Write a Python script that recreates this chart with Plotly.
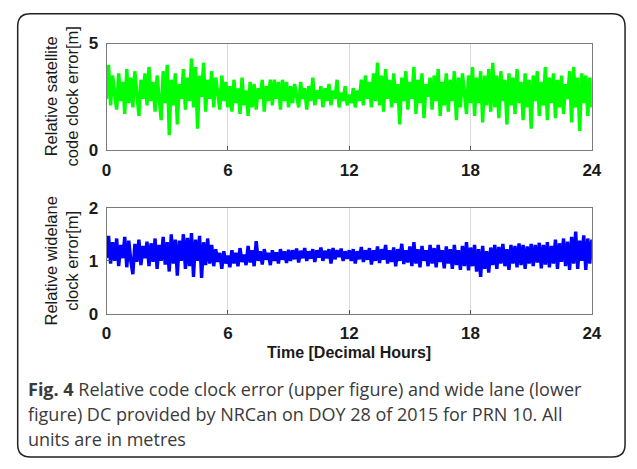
import plotly.graph_objects as go

# time axis (decimal hours), one sample every 0.1 h
hours = [round(i * 0.1, 1) for i in range(241)]

# upper series: relative satellite code clock error [m]
code_clock = [
    2.4, 4.0, 2.1, 3.5, 2.6, 1.9, 3.6, 2.3, 3.2, 1.7, 3.8,
    2.2, 3.4, 2.0, 3.7, 2.5, 1.6, 3.3, 2.4, 3.6, 2.1,
    3.9, 2.3, 3.2, 1.8, 3.5, 2.6, 1.4, 3.7, 2.2, 4.0,
    0.7, 3.3, 2.1, 3.6, 1.2, 3.1, 2.4, 3.8, 1.9, 3.4,
    2.3, 4.3, 2.0, 3.9, 1.0, 3.5, 2.5, 4.1, 1.8, 3.3,
    2.4, 3.7, 2.0, 3.4, 2.6, 1.9, 3.5, 2.3, 3.2, 2.0,
    3.0, 1.8, 3.3, 2.2, 2.9, 1.7, 3.4, 2.1, 2.8, 1.6,
    3.2, 2.0, 3.1, 1.9, 2.9, 2.4, 3.3, 1.8, 3.0, 2.3,
    3.3, 2.1, 3.3, 2.4, 3.2, 1.9, 3.3, 2.3, 3.2, 2.0,
    3.0, 2.2, 3.1, 2.5, 2.0, 3.2, 2.4, 2.9, 1.9, 3.0,
    2.3, 3.4, 2.1, 2.8, 2.4, 3.0, 2.0, 2.9, 2.3, 3.1,
    2.1, 2.8, 2.4, 3.3, 2.0, 2.7, 2.3, 3.0, 2.1, 2.6,
    2.2, 2.9, 2.0, 2.8, 2.3, 3.3, 2.1, 3.5, 2.4, 3.2,
    2.0, 3.6, 2.3, 4.1, 2.1, 3.5, 1.8, 3.8, 2.4, 3.3,
    2.0, 3.6, 2.2, 3.1, 1.2, 3.4, 2.3, 3.7, 1.9, 3.2,
    2.4, 3.9, 1.7, 3.3, 2.2, 3.6, 1.5, 3.1, 2.5, 3.4,
    1.9, 3.5, 2.3, 3.8, 1.6, 3.2, 2.1, 3.6, 1.8, 3.3,
    2.3, 3.7, 1.4, 3.4, 2.0, 3.6, 2.4, 1.7, 3.5, 2.2,
    3.9, 1.6, 3.4, 2.2, 3.7, 1.3, 3.5, 2.1, 3.8, 1.8,
    4.1, 2.0, 3.5, 1.5, 3.7, 2.3, 3.3, 1.2, 3.6, 2.1,
    3.4, 1.7, 3.8, 2.2, 3.2, 1.4, 3.6, 2.0, 3.3, 1.0,
    3.5, 2.3, 3.7, 1.6, 3.2, 2.1, 3.9, 1.4, 3.4, 2.2,
    3.6, 1.5, 3.3, 2.0, 3.5, 1.7, 3.1, 2.4, 3.7, 1.3,
    3.9, 2.0, 3.4, 0.9, 3.6, 2.2, 3.5, 1.6, 3.4, 2.0,
]

# lower series: relative widelane clock error [m]
widelane = [
    1.05, 1.47, 0.95, 1.35, 1.00, 1.42, 0.90, 1.30, 1.05, 1.45, 0.88,
    1.38, 1.00, 0.75, 1.32, 0.98, 1.40, 0.92, 1.28, 1.05, 1.36,
    0.90, 1.33, 0.98, 1.42, 0.85, 1.30, 1.00, 1.45, 0.93, 1.35,
    0.80, 1.50, 0.95, 1.40, 0.72, 1.38, 1.00, 1.50, 0.85, 1.43,
    0.90, 1.52, 0.70, 1.40, 1.00, 1.47, 0.68, 1.35, 0.92, 1.42,
    0.95, 1.30, 0.90, 1.22, 0.98, 1.15, 0.85, 1.18, 0.95, 1.10,
    0.88, 1.20, 0.95, 1.15, 0.90, 1.24, 0.98, 1.12, 0.92, 1.28,
    0.97, 1.20, 0.90, 1.37, 1.00, 1.18, 0.93, 1.22, 1.02, 1.15,
    0.92, 1.20, 1.00, 1.16, 0.95, 1.22, 1.02, 1.18, 0.96, 1.21,
    1.00, 1.20, 1.03, 1.23, 0.97, 1.19, 1.05, 1.24, 1.00, 1.18,
    1.04, 1.22, 0.98, 1.20, 1.06, 1.25, 1.00, 1.19, 1.05, 1.22,
    0.95, 1.24, 1.03, 1.20, 1.07, 1.23, 1.00, 1.18, 1.04, 1.20,
    1.00, 1.22, 0.95, 1.18, 1.03, 1.26, 0.98, 1.20, 1.02, 1.24,
    0.93, 1.20, 1.00, 1.27, 0.96, 1.22, 1.02, 1.30, 0.95, 1.20,
    0.98, 1.25, 0.90, 1.22, 1.00, 1.32, 0.94, 1.20, 0.97, 1.27,
    0.90, 1.35, 0.95, 1.22, 0.88, 1.28, 1.00, 1.20, 0.90, 1.30,
    0.95, 1.24, 0.88, 1.30, 0.98, 1.20, 0.86, 1.27, 0.95, 1.22,
    0.85, 1.30, 0.92, 1.20, 0.83, 1.28, 0.90, 1.35, 0.82, 1.25,
    0.90, 1.30, 0.80, 1.22, 0.70, 1.28, 0.85, 1.18, 0.78, 1.25,
    0.92, 1.30, 0.85, 1.26, 0.95, 1.32, 0.90, 1.22, 0.83, 1.30,
    0.95, 1.28, 0.88, 1.33, 0.92, 1.30, 0.85, 1.27, 0.95, 1.32,
    0.90, 1.30, 0.97, 1.34, 0.86, 1.30, 0.93, 1.35, 0.88, 1.28,
    0.95, 1.40, 0.85, 1.33, 0.98, 1.42, 0.90, 1.36, 0.83, 1.45,
    0.95, 1.55, 0.85, 1.38, 1.00, 1.48, 0.83, 1.42, 0.95, 1.40,
]

x_ticks = [0, 6, 12, 18, 24]
upper_y_ticks = [0, 5]
lower_y_ticks = [0, 1, 2]
upper_title = "Relative satellite<br>code clock error[m]"
lower_title = "Relative widelane<br>clock error[m]"
x_title = "Time [Decimal Hours]"
caption_lines = [
    "<b>Fig. 4</b> Relative code clock error (upper figure) and wide lane (lower",
    "figure) DC provided by NRCan on DOY 28 of 2015 for PRN 10. All",
    "units are in metres",
]

W, H = 637, 469


def px(x):
    return x / W


def py(y):
    return 1 - y / H


fig = go.Figure()
fig.add_trace(go.Scatter(x=hours, y=code_clock, mode="lines",
                         line=dict(color="#00ff00", width=3.4),
                         xaxis="x", yaxis="y", showlegend=False))
fig.add_trace(go.Scatter(x=hours, y=widelane, mode="lines",
                         line=dict(color="#0000ff", width=3.4),
                         xaxis="x2", yaxis="y2", showlegend=False))

tickfont = dict(family="Liberation Sans, Arial, sans-serif", size=17, color="#1a1a1a")
axis_common = dict(showline=True, linecolor="#7a7a7a", linewidth=1, mirror=True,
                   ticks="inside", ticklen=4, tickcolor="#555555", tickfont=tickfont,
                   zeroline=False)

fig.update_layout(
    width=W, height=H,
    margin=dict(l=0, r=0, t=0, b=0),
    paper_bgcolor="white", plot_bgcolor="white",
    xaxis=dict(domain=[px(104), px(601)], range=[0, 24], tickvals=x_ticks,
               ticktext=[f"<b>{t}</b>" for t in x_ticks],
               showgrid=True, gridcolor="#dadada", gridwidth=1,
               anchor="y", ticklabelstandoff=5, **axis_common),
    yaxis=dict(domain=[py(147), py(36)], range=[0, 5], tickvals=upper_y_ticks,
               ticktext=[f"<b>{t}</b>" for t in upper_y_ticks],
               showgrid=False, anchor="x", ticklabelstandoff=4, **axis_common),
    xaxis2=dict(domain=[px(104), px(601)], range=[0, 24], tickvals=x_ticks,
                ticktext=[f"<b>{t}</b>" for t in x_ticks],
                showgrid=True, gridcolor="#dadada", gridwidth=1,
                anchor="y2", ticklabelstandoff=3, **axis_common),
    yaxis2=dict(domain=[py(318), py(207)], range=[0, 2], tickvals=lower_y_ticks,
                ticktext=[f"<b>{t}</b>" for t in lower_y_ticks],
                showgrid=False, anchor="x2", ticklabelstandoff=4, **axis_common),
)

r = 13
x0, x1, y0, y1 = 13, 635, 5, 467
path = (f"M {px(x0 + r)},{py(y0)} L {px(x1 - r)},{py(y0)} "
        f"Q {px(x1)},{py(y0)} {px(x1)},{py(y0 + r)} "
        f"L {px(x1)},{py(y1 - r)} Q {px(x1)},{py(y1)} {px(x1 - r)},{py(y1)} "
        f"L {px(x0 + r)},{py(y1)} Q {px(x0)},{py(y1)} {px(x0)},{py(y1 - r)} "
        f"L {px(x0)},{py(y0 + r)} Q {px(x0)},{py(y0)} {px(x0 + r)},{py(y0)} Z")
fig.add_shape(type="path", path=path, xref="paper", yref="paper",
              line=dict(color="#222222", width=1.5))

title_font = dict(family="Liberation Sans, Arial, sans-serif", size=16.5, color="#1a1a1a")
fig.add_annotation(text=upper_title, x=px(58), y=py(91.5), xref="paper", yref="paper",
                   textangle=-90, showarrow=False, font=title_font,
                   xanchor="center", yanchor="middle")
fig.add_annotation(text=lower_title, x=px(58), y=py(262.5), xref="paper", yref="paper",
                   textangle=-90, showarrow=False, font=title_font,
                   xanchor="center", yanchor="middle")
fig.add_annotation(text=f"<b>{x_title}</b>", x=px(352.5), y=py(358), xref="paper", yref="paper",
                   showarrow=False, font=dict(family="Liberation Sans, Arial, sans-serif", size=16, color="#1a1a1a"),
                   xanchor="center", yanchor="middle")

cap_font = dict(family="Open Sans, Noto Sans, sans-serif", size=18, color="#3a3a3a")
for i, line in enumerate(caption_lines):
    fig.add_annotation(text=line, x=px(22), y=py(396 + 26 * i), xref="paper", yref="paper",
                       showarrow=False, font=cap_font, xanchor="left", yanchor="middle",
                       align="left")

fig.write_html("out.html")
